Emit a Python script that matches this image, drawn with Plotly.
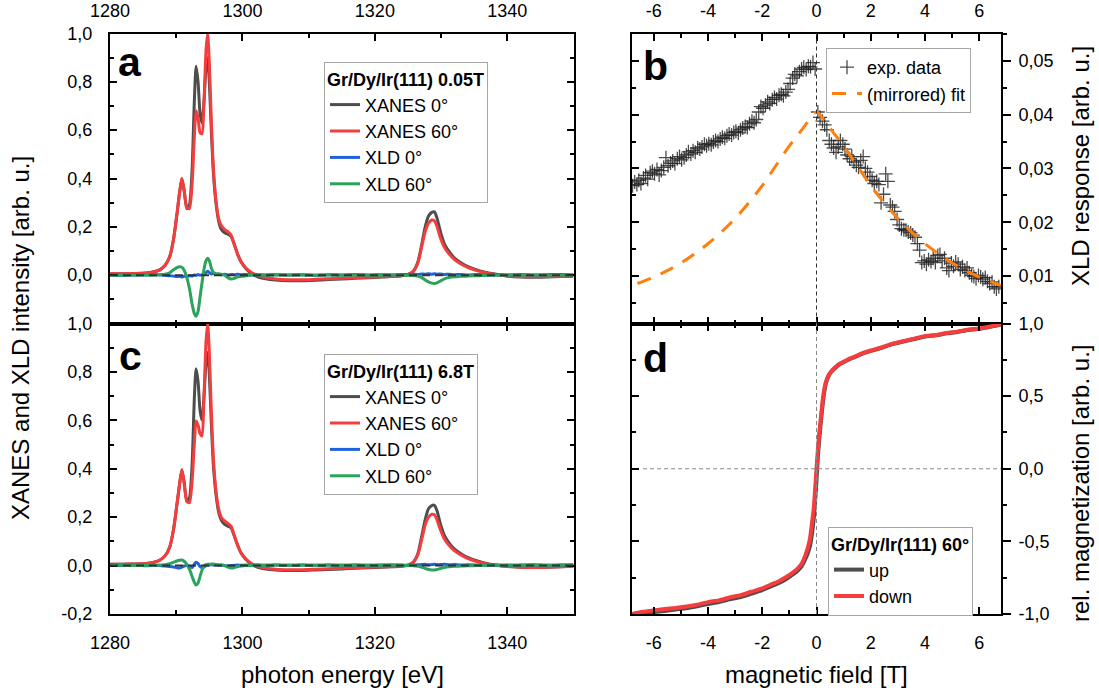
import plotly.graph_objects as go

FONT = "Liberation Sans, Arial, sans-serif"
GRAY = "#4d4d4d"
RED = "#f53d3d"
BLUE = "#1f63dc"
GREEN = "#2aa45a"
ORANGE = "#ff7f0e"

# ---------------- photon energy spectra (panels a and c) ----------------
energy = [1280, 1282, 1284, 1285.5, 1286.5, 1287.5, 1288.3, 1289, 1289.6, 1290.1,
          1290.5, 1290.85, 1291.2, 1291.6, 1292.0, 1292.4, 1292.75, 1293.0, 1293.3, 1293.6,
          1293.9, 1294.2, 1294.5, 1294.75, 1295.0, 1295.3, 1295.6, 1296.0, 1296.4, 1296.8,
          1297.3, 1297.8, 1298.3, 1298.8, 1299.3, 1299.8, 1300.5, 1301.3, 1302.2, 1303.5,
          1305, 1307, 1309, 1311, 1313, 1315, 1317, 1319, 1321, 1322.5,
          1324, 1325, 1325.8, 1326.5, 1327.1, 1327.6, 1328.1, 1328.6, 1329.0, 1329.4,
          1329.9, 1330.5, 1331.2, 1332, 1333, 1334, 1335.5, 1337, 1338.5, 1340,
          1342, 1344, 1346, 1348, 1350]

# 0.05 T
xanes0_a = [0.006, 0.006, 0.007, 0.009, 0.013, 0.022, 0.040, 0.075, 0.150, 0.250,
            0.340, 0.400, 0.350, 0.275, 0.290, 0.440, 0.730, 0.865, 0.800, 0.670,
            0.630, 0.720, 0.860, 0.900, 0.800, 0.600, 0.430, 0.300, 0.225, 0.190,
            0.175, 0.170, 0.160, 0.125, 0.085, 0.055, 0.028, 0.008, -0.006, -0.015,
            -0.020, -0.023, -0.023, -0.021, -0.018, -0.016, -0.013, -0.011, -0.008, -0.006,
            -0.003, 0.003, 0.016, 0.055, 0.130, 0.200, 0.245, 0.260, 0.262, 0.235,
            0.180, 0.130, 0.098, 0.072, 0.051, 0.036, 0.021, 0.010, 0.003, -0.004,
            -0.008, -0.009, -0.008, -0.006, -0.004]
xanes60_a = [0.006, 0.006, 0.007, 0.009, 0.013, 0.022, 0.040, 0.075, 0.150, 0.250,
             0.340, 0.400, 0.350, 0.280, 0.275, 0.380, 0.580, 0.680, 0.650, 0.590,
             0.585, 0.720, 0.930, 1.000, 0.880, 0.640, 0.450, 0.310, 0.235, 0.205,
             0.190, 0.180, 0.165, 0.125, 0.085, 0.055, 0.030, 0.012, 0.000, -0.010,
             -0.016, -0.019, -0.019, -0.017, -0.015, -0.013, -0.011, -0.009, -0.007, -0.005,
             -0.002, 0.003, 0.015, 0.050, 0.120, 0.180, 0.215, 0.228, 0.225, 0.200,
             0.155, 0.115, 0.088, 0.065, 0.046, 0.032, 0.018, 0.008, 0.002, -0.003,
             -0.006, -0.007, -0.006, -0.004, -0.002]
xld0_a = [0.002, 0.000, 0.002, 0.001, 0.003, 0.001, 0.000, -0.002, -0.004, -0.006,
          -0.005, -0.008, -0.004, -0.006, -0.002, -0.004, 0.001, -0.001, 0.003, 0.000,
          0.002, 0.004, 0.010, 0.016, 0.011, 0.005, 0.007, 0.003, 0.005, 0.002,
          0.004, 0.001, 0.003, 0.002, 0.004, 0.002, 0.003, 0.001, 0.002, 0.001,
          0.002, 0.001, 0.002, 0.000, 0.002, 0.001, 0.003, 0.001, 0.002, 0.001,
          0.003, 0.002, 0.004, 0.003, 0.005, 0.004, 0.006, 0.004, 0.006, 0.004,
          0.005, 0.003, 0.004, 0.002, 0.003, 0.001, 0.003, 0.001, 0.002, 0.001,
          0.003, 0.001, 0.002, 0.003, 0.002]
xld60_a = [0.000, 0.001, 0.000, 0.001, 0.000, 0.002, 0.004, 0.010, 0.022, 0.031,
           0.035, 0.033, 0.020, -0.010, -0.055, -0.120, -0.160, -0.170, -0.150, -0.090,
           -0.030, 0.025, 0.060, 0.070, 0.060, 0.030, 0.012, 0.006, 0.005, 0.004,
           0.000, -0.010, -0.016, -0.013, -0.007, -0.005, -0.003, 0.001, 0.001, 0.000,
           0.001, 0.000, 0.001, 0.000, 0.001, 0.000, 0.001, 0.000, 0.000, 0.001,
           0.000, 0.000, -0.001, -0.004, -0.010, -0.020, -0.028, -0.033, -0.034, -0.032,
           -0.024, -0.015, -0.010, -0.007, -0.005, -0.003, -0.002, 0.000, 0.000, 0.001,
           0.000, 0.001, 0.000, 0.001, 0.000]

# 6.8 T
xanes0_c = [0.006, 0.006, 0.007, 0.009, 0.013, 0.022, 0.040, 0.075, 0.150, 0.250,
            0.335, 0.396, 0.345, 0.265, 0.280, 0.420, 0.700, 0.813, 0.760, 0.640,
            0.600, 0.700, 0.840, 0.880, 0.790, 0.590, 0.420, 0.295, 0.222, 0.188,
            0.170, 0.163, 0.155, 0.120, 0.082, 0.052, 0.026, 0.007, -0.006, -0.014,
            -0.018, -0.020, -0.020, -0.018, -0.016, -0.014, -0.011, -0.009, -0.007, -0.005,
            -0.003, 0.002, 0.014, 0.050, 0.125, 0.190, 0.235, 0.248, 0.249, 0.225,
            0.172, 0.125, 0.094, 0.069, 0.049, 0.034, 0.019, 0.008, 0.001, -0.004,
            -0.007, -0.008, -0.007, -0.005, -0.003]
xanes60_c = [0.006, 0.006, 0.007, 0.009, 0.013, 0.022, 0.040, 0.075, 0.150, 0.250,
             0.335, 0.396, 0.340, 0.265, 0.260, 0.350, 0.510, 0.597, 0.580, 0.545,
             0.535, 0.700, 0.925, 1.000, 0.880, 0.640, 0.450, 0.310, 0.235, 0.200,
             0.185, 0.175, 0.162, 0.122, 0.083, 0.053, 0.028, 0.010, -0.002, -0.010,
             -0.015, -0.017, -0.017, -0.015, -0.013, -0.011, -0.009, -0.007, -0.005, -0.004,
             -0.002, 0.002, 0.013, 0.045, 0.110, 0.168, 0.200, 0.212, 0.210, 0.188,
             0.148, 0.110, 0.084, 0.062, 0.044, 0.030, 0.016, 0.006, 0.000, -0.004,
             -0.007, -0.008, -0.007, -0.005, -0.003]
xld0_c = [0.002, 0.000, 0.001, -0.001, 0.001, 0.000, -0.002, -0.004, -0.006, -0.009,
          -0.010, -0.006, -0.002, 0.000, -0.004, -0.008, 0.006, 0.014, 0.008, -0.004,
          -0.010, -0.006, 0.000, 0.003, 0.001, 0.004, 0.002, 0.003, 0.001, 0.002,
          0.000, -0.002, 0.000, 0.001, 0.002, 0.001, 0.002, 0.001, 0.002, 0.001,
          0.002, 0.001, 0.002, 0.001, 0.002, 0.001, 0.002, 0.001, 0.002, 0.002,
          0.002, 0.001, 0.002, 0.003, 0.004, 0.005, 0.003, 0.004, 0.005, 0.004,
          0.004, 0.005, 0.003, 0.004, 0.002, 0.003, 0.002, 0.001, 0.002, 0.001,
          0.002, 0.003, 0.001, 0.002, 0.003]
xld60_c = [0.000, 0.001, 0.000, 0.001, 0.001, 0.002, 0.004, 0.008, 0.014, 0.019,
           0.022, 0.023, 0.018, 0.005, -0.015, -0.045, -0.070, -0.080, -0.072, -0.045,
           -0.018, -0.002, 0.004, 0.006, 0.005, 0.006, 0.007, 0.004, 0.003, 0.002,
           0.000, -0.006, -0.010, -0.008, -0.004, -0.002, 0.000, 0.001, 0.002, 0.001,
           0.002, 0.001, 0.002, 0.001, 0.002, 0.001, 0.002, 0.001, 0.001, 0.002,
           0.001, 0.000, -0.001, -0.003, -0.007, -0.012, -0.016, -0.018, -0.018, -0.016,
           -0.012, -0.008, -0.005, -0.003, -0.002, -0.001, 0.000, 0.001, 0.001, 0.002,
           0.001, 0.002, 0.001, 0.002, 0.001]

# ---------------- XLD response vs. field (panel b) ----------------
field_b = [-6.78, -6.70, -6.62, -6.55, -6.47, -6.38, -6.30, -6.22, -6.13, -6.05,
           -5.97, -5.88, -5.80, -5.72, -5.63, -5.55, -5.47, -5.38, -5.30, -5.22,
           -5.13, -5.05, -4.97, -4.88, -4.80, -4.72, -4.63, -4.55, -4.47, -4.38,
           -4.30, -4.22, -4.13, -4.05, -3.97, -3.88, -3.80, -3.72, -3.63, -3.55,
           -3.47, -3.38, -3.30, -3.22, -3.13, -3.05, -2.97, -2.88, -2.80, -2.72,
           -2.63, -2.55, -2.47, -2.38, -2.30, -2.22, -2.13, -2.05, -1.97, -1.88,
           -1.80, -1.72, -1.63, -1.55, -1.47, -1.38, -1.30, -1.22, -1.13, -1.05,
           -0.97, -0.88, -0.80, -0.72, -0.63, -0.55, -0.47, -0.38, -0.30, -0.22,
           -0.13, -0.05,
           0.05, 0.13, 0.22, 0.30, 0.38, 0.47, 0.55, 0.63, 0.72, 0.80,
           0.88, 0.97, 1.05, 1.13, 1.22, 1.30, 1.38, 1.47, 1.55, 1.63,
           1.72, 1.80, 1.88, 1.97, 2.05, 2.13, 2.22, 2.30, 2.38, 2.47,
           2.55, 2.63, 2.72, 2.80, 2.88, 2.97, 3.05, 3.13, 3.22, 3.30,
           3.38, 3.47, 3.55, 3.63, 3.72, 3.80, 3.88, 3.97, 4.05, 4.13,
           4.22, 4.30, 4.38, 4.47, 4.55, 4.63, 4.72, 4.80, 4.88, 4.97,
           5.05, 5.13, 5.22, 5.30, 5.38, 5.47, 5.55, 5.63, 5.72, 5.80,
           5.88, 5.97, 6.05, 6.13, 6.22, 6.30, 6.38, 6.47, 6.55, 6.63,
           6.72]
xld_b = [0.0268, 0.0275, 0.0270, 0.0278, 0.0272, 0.0282, 0.0287, 0.0280, 0.0292, 0.0295,
         0.0290, 0.0298, 0.0288, 0.0296, 0.0302, 0.0320, 0.0305, 0.0310, 0.0314, 0.0309,
         0.0318, 0.0322, 0.0316, 0.0320, 0.0325, 0.0331, 0.0327, 0.0333, 0.0330, 0.0338,
         0.0336, 0.0340, 0.0345, 0.0342, 0.0346, 0.0344, 0.0349, 0.0352, 0.0350, 0.0355,
         0.0358, 0.0356, 0.0361, 0.0364, 0.0362, 0.0367, 0.0369, 0.0366, 0.0372, 0.0375,
         0.0378, 0.0376, 0.0383, 0.0388, 0.0385, 0.0391, 0.0405, 0.0415, 0.0412, 0.0418,
         0.0424, 0.0421, 0.0428, 0.0432, 0.0429, 0.0436, 0.0438, 0.0435, 0.0442, 0.0447,
         0.0458, 0.0468, 0.0475, 0.0472, 0.0480, 0.0485, 0.0488, 0.0484, 0.0490, 0.0489,
         0.0497, 0.0485,
         0.0405, 0.0395, 0.0388, 0.0381, 0.0372, 0.0352, 0.0345, 0.0338, 0.0330, 0.0340,
         0.0352, 0.0345, 0.0336, 0.0325, 0.0318, 0.0322, 0.0312, 0.0306, 0.0302, 0.0315,
         0.0322, 0.0300, 0.0293, 0.0285, 0.0278, 0.0272, 0.0276, 0.0270, 0.0236, 0.0252,
         0.0290, 0.0276, 0.0232, 0.0228, 0.0220, 0.0205, 0.0195, 0.0188, 0.0186, 0.0185,
         0.0182, 0.0180, 0.0176, 0.0172, 0.0160, 0.0148, 0.0125, 0.0128, 0.0122, 0.0130,
         0.0127, 0.0133, 0.0125, 0.0138, 0.0140, 0.0128, 0.0133, 0.0115, 0.0110, 0.0124,
         0.0118, 0.0126, 0.0122, 0.0112, 0.0117, 0.0110, 0.0115, 0.0106, 0.0101, 0.0099,
         0.0095, 0.0101, 0.0098, 0.0094, 0.0097, 0.0090, 0.0086, 0.0089, 0.0080, 0.0076,
         0.0080]
fit_field = [-6.6, -6.0, -5.5, -5.0, -4.5, -4.0, -3.5, -3.0, -2.5, -2.0, -1.5, -1.0, -0.6, -0.3, 0.0,
             0.3, 0.6, 1.0, 1.5, 2.0, 2.5, 3.0, 3.5, 4.0, 4.5, 5.0, 5.5, 6.0, 6.6, 6.8]
fit_xld = [0.0086, 0.0098, 0.0110, 0.0124, 0.0141, 0.0160, 0.0182, 0.0207, 0.0236, 0.0268,
           0.0305, 0.0342, 0.0368, 0.0388, 0.0405,
           0.0388, 0.0368, 0.0342, 0.0305, 0.0268, 0.0236, 0.0207, 0.0182, 0.0160, 0.0141,
           0.0124, 0.0110, 0.0098, 0.0086, 0.0082]

# ---------------- magnetization loop (panel d) ----------------
field_d = [-6.8, -6.4, -6.0, -5.6, -5.2, -4.8, -4.4, -4.0, -3.6, -3.2,
           -2.8, -2.4, -2.0, -1.7, -1.4, -1.1, -0.9, -0.7, -0.55, -0.42,
           -0.32, -0.24, -0.17, -0.1, -0.05, 0.0, 0.05, 0.1, 0.16, 0.22,
           0.28, 0.35, 0.45, 0.55, 0.7, 0.85, 1.0, 1.2, 1.4, 1.7,
           2.0, 2.4, 2.8, 3.2, 3.6, 4.0, 4.4, 4.8, 5.2, 5.6,
           6.0, 6.4, 6.8]
mag_down = [-1.000, -0.985, -0.975, -0.966, -0.958, -0.948, -0.936, -0.918, -0.906, -0.886,
            -0.871, -0.847, -0.824, -0.799, -0.776, -0.744, -0.719, -0.688, -0.655, -0.600,
            -0.545, -0.480, -0.380, -0.270, -0.140, 0.000, 0.130, 0.240, 0.350, 0.460,
            0.540, 0.600, 0.645, 0.672, 0.700, 0.723, 0.737, 0.756, 0.771, 0.796,
            0.814, 0.836, 0.861, 0.879, 0.896, 0.913, 0.921, 0.935, 0.944, 0.958,
            0.965, 0.979, 0.996]
mag_up = [-1.008, -0.996, -0.987, -0.979, -0.969, -0.961, -0.947, -0.931, -0.917, -0.899,
          -0.883, -0.860, -0.836, -0.812, -0.788, -0.757, -0.731, -0.702, -0.672, -0.625,
          -0.580, -0.530, -0.450, -0.340, -0.220, -0.080, 0.080, 0.200, 0.320, 0.430,
          0.520, 0.590, 0.640, 0.668, 0.696, 0.719, 0.734, 0.752, 0.768, 0.793,
          0.811, 0.833, 0.858, 0.876, 0.893, 0.910, 0.919, 0.932, 0.942, 0.955,
          0.963, 0.977, 0.994]

# ---------------- tick labels ----------------
energy_ticks = [1280, 1300, 1320, 1340]
energy_ticktext = ["1280", "1300", "1320", "1340"]
inten_ticks_a = [0.0, 0.2, 0.4, 0.6, 0.8, 1.0]
inten_text_a = ["0,0", "0,2", "0,4", "0,6", "0,8", "1,0"]
inten_ticks_c = [-0.2, 0.0, 0.2, 0.4, 0.6, 0.8, 1.0]
inten_text_c = ["-0,2", "0,0", "0,2", "0,4", "0,6", "0,8", "1,0"]
field_ticks = [-6, -4, -2, 0, 2, 4, 6]
field_text = ["-6", "-4", "-2", "0", "2", "4", "6"]
xld_ticks = [0.01, 0.02, 0.03, 0.04, 0.05]
xld_text = ["0,01", "0,02", "0,03", "0,04", "0,05"]
mag_ticks = [-1.0, -0.5, 0.0, 0.5, 1.0]
mag_text = ["-1,0", "-0,5", "0,0", "0,5", "1,0"]

W, H = 1099, 692
XL = [110 / W, 573.5 / W]
XR = [632 / W, 1001 / W]
YT = [1 - 323.5 / H, 1 - 33.5 / H]
YB = [1 - 614 / H, 1 - 323.5 / H]

fig = go.Figure()


def spec(x, y, name, color, xa, ya, leg):
    return go.Scatter(x=x, y=y, name=name, mode="lines", xaxis=xa, yaxis=ya, legend=leg,
                      line=dict(color=color, width=3, shape="spline", smoothing=0.6))


for (x0, x60, d0, d60, xa, ya, leg) in [
        (xanes0_a, xanes60_a, xld0_a, xld60_a, "x", "y", "legend"),
        (xanes0_c, xanes60_c, xld0_c, xld60_c, "x2", "y2", "legend2")]:
    fig.add_trace(spec(energy, x0, "XANES 0°", GRAY, xa, ya, leg))
    fig.add_trace(spec(energy, x60, "XANES 60°", RED, xa, ya, leg))
    fig.add_trace(spec(energy, d0, "XLD 0°", BLUE, xa, ya, leg))
    fig.add_trace(spec(energy, d60, "XLD 60°", GREEN, xa, ya, leg))

fig.add_trace(go.Scatter(x=field_b, y=xld_b, name="exp. data", mode="markers",
                         xaxis="x3", yaxis="y3", legend="legend3",
                         marker=dict(symbol="cross-thin", size=10, color="rgba(30,30,30,0.8)",
                                     line=dict(width=1.3, color="rgba(30,30,30,0.8)"))))
fig.add_trace(go.Scatter(x=fit_field, y=fit_xld, name="(mirrored) fit", mode="lines",
                         xaxis="x3", yaxis="y3", legend="legend3",
                         line=dict(color=ORANGE, width=3, dash="14px,11px", shape="spline")))

fig.add_trace(go.Scatter(x=field_d, y=mag_up, name="up", mode="lines", xaxis="x4", yaxis="y4",
                         legend="legend4", line=dict(color=GRAY, width=4, shape="spline", smoothing=0.5)))
fig.add_trace(go.Scatter(x=field_d, y=mag_down, name="down", mode="lines", xaxis="x4", yaxis="y4",
                         legend="legend4", line=dict(color=RED, width=4, shape="spline", smoothing=0.5)))

# empty traces that carry the inner left-hand tick axes of panels b and d
fig.add_trace(go.Scatter(x=[], y=[], xaxis="x3", yaxis="y5", showlegend=False))
fig.add_trace(go.Scatter(x=[], y=[], xaxis="x4", yaxis="y6", showlegend=False))

tickfont = dict(family=FONT, size=18, color="black")


def axis(**kw):
    base = dict(showline=True, linecolor="black", linewidth=2, ticks="inside", ticklen=7,
                tickwidth=2, tickcolor="black", showgrid=False, zeroline=False,
                tickfont=tickfont, automargin=False, tickmode="array")
    base.update(kw)
    return base


def minor(dt, t0, side="inside"):
    return dict(ticks=side, ticklen=4, tickwidth=2, tickcolor="black", dtick=dt, tick0=t0,
                showgrid=False)


layout_axes = dict(
    xaxis=axis(domain=XL, anchor="y", side="top", range=[1280, 1350], mirror="ticks",
               tickvals=energy_ticks, ticktext=energy_ticktext, minor=minor(10, 1280),
               ticklabelstandoff=7),
    yaxis=axis(domain=YT, anchor="x", range=[-0.2, 1.0], mirror="ticks",
               tickvals=inten_ticks_a, ticktext=inten_text_a, minor=minor(0.1, 0),
               ticklabelstandoff=12),
    xaxis2=axis(domain=XL, anchor="y2", side="bottom", range=[1280, 1350], mirror="ticks",
                tickvals=energy_ticks, ticktext=energy_ticktext, minor=minor(10, 1280),
                ticklabelstandoff=11),
    yaxis2=axis(domain=YB, anchor="x2", range=[-0.2, 1.0], mirror="ticks",
                tickvals=inten_ticks_c, ticktext=inten_text_c, minor=minor(0.1, 0),
                ticklabelstandoff=12),
    xaxis3=axis(domain=XR, anchor="y3", side="top", range=[-6.8, 6.8], mirror="ticks",
                tickvals=field_ticks, ticktext=field_text, minor=minor(1, 0),
                ticklabelstandoff=7),
    yaxis3=axis(domain=YT, anchor="x3", side="right", range=[0.00116, 0.0551], mirror=True,
                ticks="outside", ticklen=8, tickvals=xld_ticks, ticktext=xld_text,
                minor=minor(0.005, 0, "outside"), ticklabelstandoff=4),
    yaxis5=axis(overlaying="y3", anchor="x3", side="left", range=[0.00116, 0.0551],
                showticklabels=False, tickvals=xld_ticks, minor=minor(0.005, 0)),
    xaxis4=axis(domain=XR, anchor="y4", side="bottom", range=[-6.8, 6.8], mirror="ticks",
                tickvals=field_ticks, ticktext=field_text, minor=minor(1, 0),
                ticklabelstandoff=11),
    yaxis4=axis(domain=YB, anchor="x4", side="right", range=[-1.0, 1.0], mirror=True,
                ticks="outside", ticklen=8, tickvals=mag_ticks, ticktext=mag_text,
                minor=minor(0.25, 0, "outside"), ticklabelstandoff=4),
    yaxis6=axis(overlaying="y4", anchor="x4", side="left", range=[-1.0, 1.0],
                showticklabels=False, tickvals=mag_ticks, minor=minor(0.25, 0)),
)


def legend(x, y, title):
    return dict(x=x, y=y, xanchor="left", yanchor="top", bgcolor="white",
                bordercolor="#a6a6a6", borderwidth=1, font=dict(family=FONT, size=18, color="black"),
                title=dict(text=title, font=dict(family=FONT, size=18, color="black")),
                tracegroupgap=0, itemwidth=30)


shapes = [
    dict(type="line", xref="x", yref="y", x0=1280, x1=1350, y0=0, y1=0,
         line=dict(color="#333333", width=2, dash="8px,5px")),
    dict(type="line", xref="x2", yref="y2", x0=1280, x1=1350, y0=0, y1=0,
         line=dict(color="#333333", width=2, dash="8px,5px")),
    dict(type="line", xref="x3", yref="y3 domain", x0=0, x1=0, y0=0, y1=1,
         line=dict(color="#333333", width=1, dash="4px,3px")),
    dict(type="line", xref="x4", yref="y4 domain", x0=0, x1=0, y0=0, y1=1,
         line=dict(color="#888888", width=1, dash="4px,3px")),
    dict(type="line", xref="x4 domain", yref="y4", x0=0.03, x1=1, y0=0, y1=0,
         line=dict(color="#888888", width=1, dash="4px,3px")),
]

title_font = dict(family=FONT, size=24, color="black")
letter_font = dict(family=FONT, size=41, color="black")
annotations = [
    dict(text="XANES and XLD intensity [arb. u.]", x=20 / W, y=1 - 338 / H, textangle=-90,
         font=title_font),
    dict(text="photon energy [eV]", x=342 / W, y=1 - 674 / H, font=title_font),
    dict(text="magnetic field [T]", x=816 / W, y=1 - 674 / H, font=title_font),
    dict(text="XLD response [arb. u.]", x=1081 / W, y=1 - 166 / H, textangle=-90,
         font=title_font),
    dict(text="rel. magnetization [arb. u.]", x=1080 / W, y=1 - 484 / H, textangle=-90,
         font=title_font),
    dict(text="<b>a</b>", x=130 / W, y=1 - 62 / H, font=letter_font),
    dict(text="<b>c</b>", x=130 / W, y=1 - 356 / H, font=letter_font),
    dict(text="<b>b</b>", x=655 / W, y=1 - 66 / H, font=letter_font),
    dict(text="<b>d</b>", x=655 / W, y=1 - 358 / H, font=letter_font),
]
for a in annotations:
    a.update(xref="paper", yref="paper", showarrow=False, xanchor="center", yanchor="middle")

fig.update_layout(
    width=W, height=H, margin=dict(l=0, r=0, t=0, b=0), autosize=False,
    paper_bgcolor="white", plot_bgcolor="white",
    font=dict(family=FONT, color="black"),
    legend=legend(324 / W, 1 - 62 / H, "<b>Gr/Dy/Ir(111) 0.05T</b>"),
    legend2=legend(324 / W, 1 - 354 / H, "<b>Gr/Dy/Ir(111) 6.8T</b>"),
    legend3=legend(826 / W, 1 - 48 / H, ""),
    legend4=legend(828 / W, 1 - 527 / H, "<b>Gr/Dy/Ir(111) 60°</b>"),
    shapes=shapes, annotations=annotations,
    **layout_axes,
)

fig.write_html("out.html")
